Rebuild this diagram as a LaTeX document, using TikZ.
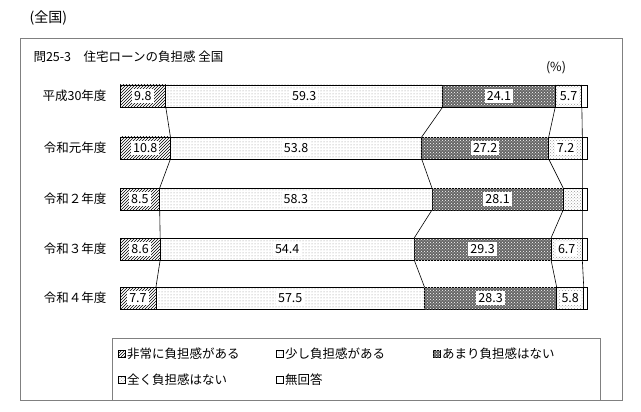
\documentclass[tikz,border=0pt]{standalone}
\usepackage{fontspec}
\setmainfont{Noto Sans CJK JP}
\usetikzlibrary{patterns}
\newcommand\mfont{\fontsize{12.5}{14}\selectfont}
\tikzset{
  seg/.style={draw=black,line width=0.9pt},
  s1/.style={seg,pattern=north east lines},
  s2/.style={seg,pattern=dots,pattern color=black!45},
  s3/.style={seg,fill=black!60,postaction={pattern=crosshatch dots,pattern color=white}},
  s4/.style={seg,pattern=crosshatch dots,pattern color=black!40},
  s5/.style={seg,fill=white},
  val/.style={fill=white,inner sep=2pt,font=\mfont},
  yr/.style={anchor=east,font=\mfont},
  link/.style={draw=black,line width=0.6pt},
  key/.style={draw=black,minimum size=7pt,inner sep=0pt,line width=0.7pt}
}
\begin{document}
\begin{tikzpicture}[x=1pt,y=-1pt]
\useasboundingbox (0,0) rectangle (641,412);
\node[anchor=west,font=\fontsize{14}{16}\selectfont] (head) at (26,18) {(全国)};
\draw[black!50] (20,38) rectangle (622,400);
\node[anchor=west,font=\mfont] (title) at (30,57) {問25-3\quad 住宅ローンの負担感\ 全国};
\node[font=\mfont] (pct) at (556,68) {(\%)};
% bars
\foreach \r/\y/\lab/\a/\b/\c/\d/\e/\dl in {
  1/96/平成30年度/9.8/59.3/24.1/5.7/1.1/5.7,
  2/148/令和元年度/10.8/53.8/27.2/7.2/1.0/7.2,
  3/199/令和２年度/8.5/58.3/28.1/4.1/1.0/,
  4/249/令和３年度/8.6/54.4/29.3/6.7/1.0/6.7,
  5/298/令和４年度/7.7/57.5/28.3/5.8/0.7/5.8}{
  \pgfmathsetmacro\xa{120}
  \pgfmathsetmacro\xb{\xa+4.67*\a}
  \pgfmathsetmacro\xc{\xb+4.67*\b}
  \pgfmathsetmacro\xd{\xc+4.67*\c}
  \pgfmathsetmacro\xe{\xd+4.67*\d}
  \pgfmathsetmacro\xf{587}
  \node[yr] (y\r) at (110,\y) {\lab};
  \draw[s1] (\xa,\y-11) rectangle (\xb,\y+11);
  \draw[s2] (\xb,\y-11) rectangle (\xc,\y+11);
  \draw[s3] (\xc,\y-11) rectangle (\xd,\y+11);
  \draw[s4] (\xd,\y-11) rectangle (\xe,\y+11);
  \draw[s5] (\xe,\y-11) rectangle (\xf,\y+11);
  \node[val] (v\r a) at ({(\xa+\xb)/2},\y) {\a};
  \node[val] (v\r b) at ({(\xb+\xc)/2},\y) {\b};
  \node[val] (v\r c) at ({(\xc+\xd)/2},\y) {\c};
  \ifx\dl\empty\else\node[val] (v\r d) at ({(\xd+\xe)/2},\y) {\dl};\fi
  \foreach \k/\xx in {1/\xb,2/\xc,3/\xd,4/\xe}{
    \coordinate (t\r-\k) at (\xx,\y-11);
    \coordinate (b\r-\k) at (\xx,\y+11);
  }
}
% connectors
\foreach \r/\n in {1/2,2/3,3/4,4/5}
  \foreach \k in {1,...,4}
    \draw[link] (b\r-\k) -- (t\n-\k);
% legend
\draw[black!50] (112,338) rectangle (600,400);
\foreach \i/\x/\y/\st/\txt in {1/122/354/s1/非常に負担感がある,2/280/354/s2/少し負担感がある,3/437/354/s3/あまり負担感はない,4/122/380/s4/全く負担感はない,5/280/380/s5/無回答}{
  \node[key,\st] (k\i) at (\x,\y) {};
  \node[anchor=west,font=\mfont,inner sep=1pt] (l\i) at (k\i.east) {\txt};
}
\end{tikzpicture}
\end{document}
